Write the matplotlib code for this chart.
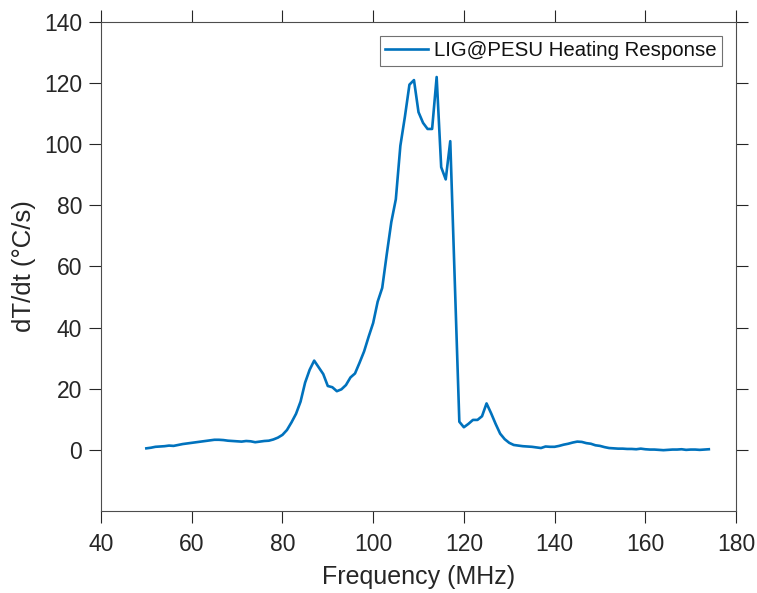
import matplotlib
matplotlib.use("Agg")
import matplotlib.pyplot as plt
import numpy as np

plt.rcParams['font.family'] = ['Liberation Sans', 'DejaVu Sans']

freq_mhz = list(range(50, 175))
dTdt = [
    0.5, 0.7, 1.0, 1.1, 1.2, 1.4, 1.3, 1.6, 1.9, 2.1,          # 50-59
    2.3, 2.5, 2.7, 2.9, 3.1, 3.3, 3.3, 3.2, 3.0, 2.9,          # 60-69
    2.8, 2.7, 2.9, 2.8, 2.5, 2.7, 2.9, 3.0, 3.4, 4.0,          # 70-79
    4.9, 6.5, 9.0, 11.8, 15.8, 22.0, 26.2, 29.2, 27.0, 24.8,   # 80-89
    20.9, 20.5, 19.2, 19.8, 21.2, 23.7, 25.0, 28.5, 32.2, 37.0,  # 90-99
    41.5, 48.5, 53.0, 64.0, 74.5, 82.0, 99.5, 109.0, 119.5, 121.0,  # 100-109
    110.5, 107.0, 105.0, 105.0, 122.0, 92.5, 88.5, 101.0, 55.0, 9.2,  # 110-119
    7.4, 8.5, 9.8, 9.8, 11.0, 15.2, 12.0, 8.5, 5.3, 3.5,       # 120-129
    2.3, 1.6, 1.4, 1.2, 1.1, 1.0, 0.8, 0.6, 1.1, 1.0,          # 130-139
    1.0, 1.3, 1.7, 2.0, 2.4, 2.7, 2.6, 2.2, 2.0, 1.5,          # 140-149
    1.3, 0.9, 0.6, 0.5, 0.4, 0.4, 0.3, 0.3, 0.2, 0.4,          # 150-159
    0.2, 0.1, 0.1, 0.0, -0.1, 0.0, 0.1, 0.1, 0.2, 0.0,         # 160-169
    0.1, 0.1, 0.0, 0.1, 0.2,                                   # 170-174
]
x_ticks = [40, 60, 80, 100, 120, 140, 160, 180]
y_ticks = [0, 20, 40, 60, 80, 100, 120, 140]

dark = '#262626'
fig = plt.figure(figsize=(7.57, 5.93), dpi=100)
ax = fig.add_axes([0.1334, 0.1383, 0.9723 - 0.1334, 0.9629 - 0.1383])

ax.plot(freq_mhz, dTdt, color='#0072BD', lw=1.9, label='LIG@PESU Heating Response')

ax.set_xlim(40, 180)
ax.set_ylim(-20, 140)
ax.set_xticks(x_ticks)
ax.set_yticks(y_ticks)
ax.tick_params(direction='out', top=True, right=True, length=8.5, width=0.8,
               colors=dark, labelsize=16.5)
ax.tick_params(axis='x', pad=7.5)
ax.tick_params(axis='y', pad=5)
for s in ax.spines.values():
    s.set_color('#4d4d4d')
    s.set_linewidth(0.8)

ax.set_xlabel('Frequency (MHz)', fontsize=18, color=dark, labelpad=6)
ax.set_ylabel('dT/dt (°C/s)', fontsize=18.5, color=dark, labelpad=6)

leg = ax.legend(loc='upper right', fontsize=14.7, frameon=True, fancybox=False,
                handlelength=2.1, handletextpad=0.3, borderpad=0.25,
                borderaxespad=0.7)
leg.get_frame().set_edgecolor('#4d4d4d')
leg.get_frame().set_linewidth(0.8)
for t in leg.get_texts():
    t.set_color('#111111')

fig.savefig('out.png', dpi=100)
